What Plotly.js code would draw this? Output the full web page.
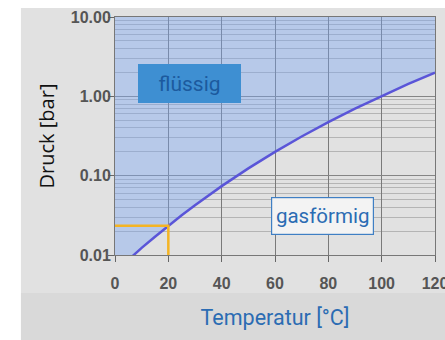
<!DOCTYPE html>
<html><head><meta charset="utf-8">
<script src="https://cdn.plot.ly/plotly-3.0.1.min.js"></script>
<style>html,body{margin:0;padding:0;background:#fff}#chart{width:445px;height:340px}</style>
</head><body><div id="chart"></div>
<script>
// Vapour pressure of water (bar) vs temperature (°C)
const temperatures = [0, 5, 10, 15, 20, 25, 30, 40, 50, 60, 70, 80, 90, 100, 110, 120];
const pressures = [0.0061, 0.0087, 0.0123, 0.0170, 0.0234, 0.0317, 0.0424, 0.0738, 0.1234, 0.1992, 0.3116, 0.4736, 0.7011, 1.0133, 1.4327, 1.9854];
const markTemp = 20;
const xTickVals = [0, 20, 40, 60, 80, 100, 120];
const yTickVals = [0.01, 0.1, 1, 10];
const yTickText = ['0.01', '0.10', '1.00', '10.00'];
const liquidLabel = 'flüssig';
const gasLabel = 'gasförmig';
const xTitle = 'Temperatur [°C]';
const yTitle = 'Druck [bar]';

const xRange = [0, 120];
const yRangeLog = [-2, 1];
const yTop = Math.pow(10, yRangeLog[1]);
const yBottom = Math.pow(10, yRangeLog[0]);
const markP = pressures[temperatures.indexOf(markTemp)];

const minorVals = [];
for (let e = yRangeLog[0]; e < yRangeLog[1]; e++) {
  for (let m = 2; m <= 9; m++) minorVals.push(m * Math.pow(10, e));
}

const traces = [
  { x: temperatures, y: temperatures.map(() => yTop), mode: 'lines', line: {width: 0}, hoverinfo: 'skip', showlegend: false },
  { x: temperatures, y: pressures, mode: 'lines', fill: 'tonexty', fillcolor: 'rgba(120,165,245,0.40)',
    line: {color: '#5a55d8', width: 2.5}, showlegend: false },
  { x: [xRange[0], markTemp, markTemp], y: [markP, markP, yBottom], mode: 'lines',
    line: {color: '#f4b424', width: 2.5}, showlegend: false }
];

const layout = {
  width: 445, height: 340,
  margin: {l: 115, r: 10, t: 17, b: 85},
  paper_bgcolor: '#ffffff',
  plot_bgcolor: '#eeeeee',
  showlegend: false,
  font: {family: 'Liberation Sans, Arial, sans-serif'},
  xaxis: {
    range: xRange, tickvals: xTickVals, ticks: 'outside', ticklen: 6, tickcolor: '#666',
    showgrid: true, gridcolor: '#7a7a7a', gridwidth: 1,
    showline: true, linecolor: '#777', mirror: true, zeroline: false,
    tickfont: {size: 16, color: '#555555', weight: 'bold'},
    ticklabelstandoff: 8, ticklabeloverflow: 'allow',
    title: {text: xTitle, font: {family: 'Roboto', size: 21.5, color: '#2b6cb3'}, standoff: 18}
  },
  yaxis: {
    type: 'log', range: yRangeLog, tickvals: yTickVals, ticktext: yTickText,
    ticks: 'outside', ticklen: 6, tickcolor: '#666',
    showgrid: true, gridcolor: '#858585', gridwidth: 1.5,
    showline: true, linecolor: '#777', mirror: true, zeroline: false,
    tickfont: {size: 16, color: '#555555', weight: 'bold'},
    ticklabelstandoff: -6,
    minor: {tickvals: minorVals, showgrid: true, gridcolor: '#b4b4b4', gridwidth: 1, ticks: ''},
    title: {text: yTitle, font: {family: 'Open Sans', size: 20, color: '#111'}, standoff: 10}
  },
  shapes: [
    {type: 'rect', xref: 'paper', yref: 'paper', x0: -0.294, x1: 1.04, y0: -0.16, y1: 1.038,
     fillcolor: '#e1e1e1', line: {width: 0}, layer: 'below'},
    {type: 'rect', xref: 'paper', yref: 'paper', x0: -0.294, x1: 1.04, y0: -0.36, y1: -0.16,
     fillcolor: '#d9d9d9', line: {width: 0}, layer: 'below'}
  ],
  annotations: [
    {text: liquidLabel, xref: 'paper', yref: 'paper', x: 0.2328, y: 0.7206, showarrow: false,
     xanchor: 'center', yanchor: 'middle', width: 101, height: 37, borderpad: 0, borderwidth: 1,
     bgcolor: '#3e8fd2', bordercolor: '#3e8fd2', font: {family: 'Roboto', size: 21, color: '#1c5a9e'}},
    {text: gasLabel, xref: 'paper', yref: 'paper', x: 0.6484, y: 0.1639, showarrow: false,
     xanchor: 'center', yanchor: 'middle', width: 101, height: 36, borderpad: 0, borderwidth: 1.2,
     bgcolor: '#f3f3f3', bordercolor: '#3f7fc4', font: {family: 'Roboto', size: 20.5, color: '#2b6cb3'}}
  ]
};

Plotly.newPlot('chart', traces, layout, {displayModeBar: false, staticPlot: true});
</script>
</body></html>
